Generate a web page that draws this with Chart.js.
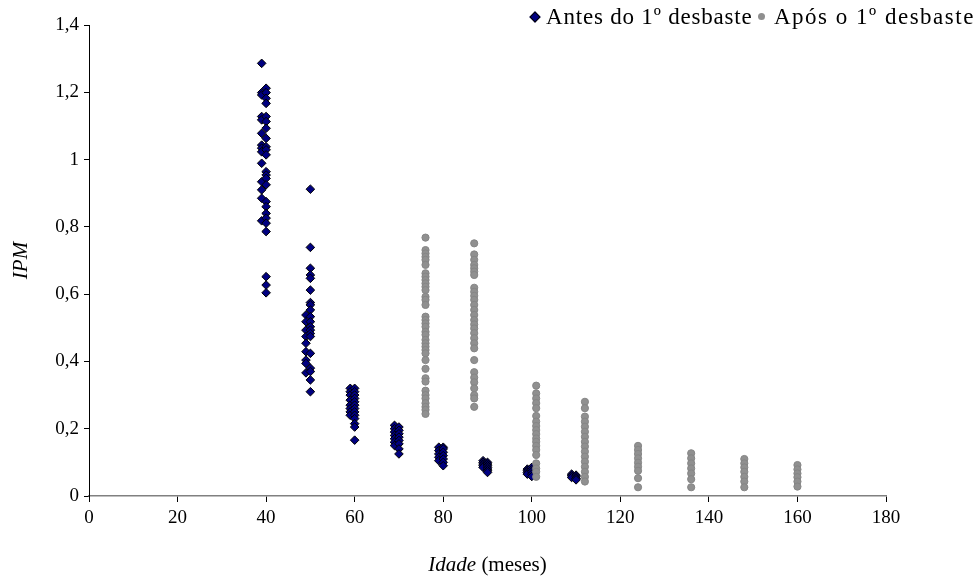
<!DOCTYPE html>
<html>
<head>
<meta charset="utf-8">
<script src="https://cdn.jsdelivr.net/npm/chart.js@4/dist/chart.umd.min.js"></script>
<style>
  html, body { margin: 0; padding: 0; background: #fff; }
  #wrap { position: relative; width: 980px; height: 580px; }
  #c { position: absolute; left: 0; top: 0; }
  .lbl { position: absolute; font-family: "Liberation Serif", "Times New Roman", serif; color: #000; white-space: nowrap; }
  .legtxt { top: 3px; font-size: 23px; letter-spacing: 0.8px; line-height: 28px; }
  .dia { position: absolute; top: 13px; left: 531px; width: 6px; height: 6px; background: #000080; border: 1px solid #000; transform: rotate(45deg); }
  .dot { position: absolute; top: 13px; left: 758px; width: 7px; height: 7px; border-radius: 50%; background: #8f8f8f; }
  #xtitle { top: 552px; left: 89px; width: 797px; text-align: center; font-size: 21px; }
</style>
</head>
<body>
<div id="wrap">
  <canvas id="c" width="980" height="580"></canvas>
  <span class="dia"></span><span id="leg1" class="lbl legtxt" style="left:546px"></span>
  <span class="dot"></span><span id="leg2" class="lbl legtxt" style="left:774px;letter-spacing:1.5px"></span>
  <div id="xtitle" class="lbl"><i>Idade</i> (meses)</div>
</div>
<script>
// Series names
const seriesNames = ["Antes do 1º desbaste", "Após o 1º desbaste"];

// "Antes do 1º desbaste": ages (meses) and IPM values observed at each age
const antesAges = [39, 40, 49, 50, 59, 60, 69, 70, 79, 80, 89, 90, 99, 100, 109, 110];
const antesValues = [
  [1.286, 1.199, 1.192, 1.128, 1.118, 1.078, 1.043, 1.034, 1.023, 0.989, 0.934, 0.910, 0.885, 0.818],
  [1.212, 1.199, 1.182, 1.167, 1.128, 1.113, 1.093, 1.063, 1.038, 1.029, 1.014, 0.964, 0.954, 0.944, 0.925, 0.875, 0.860, 0.840, 0.826, 0.811, 0.786, 0.652, 0.627, 0.604],
  [0.538, 0.518, 0.493, 0.474, 0.454, 0.429, 0.404, 0.394, 0.366],
  [0.912, 0.739, 0.677, 0.657, 0.647, 0.612, 0.575, 0.568, 0.553, 0.533, 0.518, 0.503, 0.493, 0.483, 0.474, 0.424, 0.380, 0.370, 0.345, 0.310],
  [0.320, 0.310, 0.300, 0.285, 0.270, 0.260, 0.250, 0.240],
  [0.320, 0.310, 0.300, 0.290, 0.280, 0.270, 0.260, 0.250, 0.240, 0.230, 0.215, 0.205, 0.166],
  [0.210, 0.200, 0.190, 0.180, 0.170, 0.160, 0.150],
  [0.205, 0.195, 0.185, 0.175, 0.165, 0.155, 0.140, 0.125],
  [0.145, 0.135, 0.125, 0.115, 0.105],
  [0.145, 0.140, 0.130, 0.120, 0.110, 0.100, 0.090],
  [0.105, 0.100, 0.095, 0.090, 0.085],
  [0.100, 0.095, 0.090, 0.085, 0.080, 0.075, 0.070],
  [0.080, 0.075, 0.070, 0.065],
  [0.085, 0.078, 0.072, 0.065, 0.058],
  [0.065, 0.060, 0.055],
  [0.062, 0.057, 0.052, 0.048]
];

// "Após o 1º desbaste": ages (meses) and IPM values observed at each age
const aposAges = [76, 87, 101, 112, 124, 136, 148, 160];
const aposValues = [
  [0.768, 0.731, 0.721, 0.711, 0.702, 0.687, 0.662, 0.652, 0.642, 0.632, 0.622, 0.612, 0.592, 0.583, 0.568, 0.533, 0.523, 0.513, 0.503, 0.488, 0.479, 0.464, 0.454, 0.444, 0.434, 0.424, 0.404, 0.378, 0.350, 0.340, 0.313, 0.300, 0.290, 0.276, 0.265, 0.256, 0.244],
  [0.751, 0.718, 0.702, 0.687, 0.677, 0.667, 0.657, 0.619, 0.607, 0.595, 0.583, 0.568, 0.553, 0.538, 0.523, 0.510, 0.498, 0.484, 0.469, 0.454, 0.439, 0.404, 0.368, 0.352, 0.338, 0.320, 0.300, 0.290, 0.265],
  [0.328, 0.305, 0.290, 0.276, 0.261, 0.238, 0.221, 0.208, 0.196, 0.184, 0.171, 0.161, 0.149, 0.137, 0.122, 0.097, 0.082, 0.072, 0.057],
  [0.280, 0.261, 0.236, 0.221, 0.206, 0.191, 0.176, 0.161, 0.147, 0.132, 0.117, 0.102, 0.087, 0.072, 0.057, 0.043],
  [0.149, 0.137, 0.125, 0.112, 0.099, 0.087, 0.075, 0.053, 0.026],
  [0.127, 0.112, 0.097, 0.082, 0.067, 0.050, 0.026],
  [0.110, 0.097, 0.085, 0.072, 0.057, 0.043, 0.026],
  [0.092, 0.079, 0.067, 0.056, 0.043, 0.028]
];

// Axis ranges / ticks
const xMin = 0, xMax = 180, xStep = 20;
const yMin = 0, yMax = 1.4, yStep = 0.2;
const yTitle = "IPM";

document.getElementById('leg1').textContent = seriesNames[0];
document.getElementById('leg2').textContent = seriesNames[1];

function toPoints(ages, values) {
  const pts = [];
  ages.forEach((a, i) => values[i].forEach(v => pts.push({ x: a, y: v })));
  return pts;
}

const FONT = "'Liberation Serif', 'Times New Roman', serif";

new Chart(document.getElementById('c'), {
  type: 'scatter',
  data: {
    datasets: [
      {
        label: seriesNames[0],
        data: toPoints(antesAges, antesValues),
        pointStyle: 'rectRot',
        pointRadius: 4.3,
        backgroundColor: '#000080',
        borderColor: '#000000',
        borderWidth: 1,
        order: 2
      },
      {
        label: seriesNames[1],
        data: toPoints(aposAges, aposValues),
        pointStyle: 'circle',
        pointRadius: 3.6,
        backgroundColor: '#909090',
        borderColor: '#858585',
        borderWidth: 1,
        order: 1
      }
    ]
  },
  options: {
    responsive: false,
    animation: false,
    devicePixelRatio: 1,
    layout: { padding: { left: 0, right: 94, top: 25, bottom: 0 } },
    plugins: { legend: { display: false }, tooltip: { enabled: false } },
    scales: {
      x: {
        type: 'linear', min: xMin, max: xMax,
        ticks: { stepSize: xStep, color: '#000', padding: 5, maxRotation: 0, font: { family: FONT, size: 19 } },
        grid: { drawOnChartArea: false, drawTicks: true, tickLength: 6, color: '#000' },
        border: { color: '#808080', width: 1.5 },
        afterFit(s) { s.height = 84; }
      },
      y: {
        min: yMin, max: yMax,
        ticks: {
          stepSize: yStep, color: '#000', padding: 5, font: { family: FONT, size: 19 },
          callback: v => String(Math.round(v * 10) / 10).replace('.', ',')
        },
        grid: { drawOnChartArea: false, drawTicks: true, tickLength: 5, color: '#000' },
        border: { color: '#000', width: 1 },
        title: { display: true, text: yTitle, color: '#000', padding: { top: 9, bottom: 0 }, font: { family: FONT, size: 21, style: 'italic' } },
        afterFit(s) { s.width = 89; }
      }
    }
  }
});
</script>
</body>
</html>
